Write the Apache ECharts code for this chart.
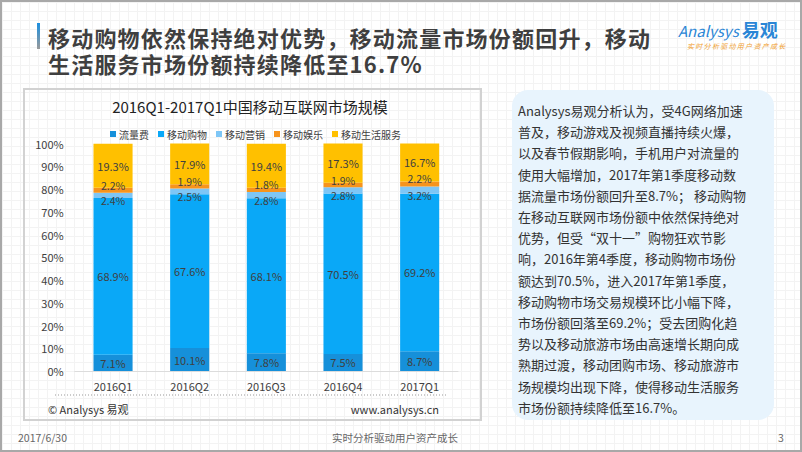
<!DOCTYPE html>
<html>
<head>
<meta charset="utf-8">
<script src="https://cdn.jsdelivr.net/npm/echarts@6/dist/echarts.min.js"></script>
<style>
  html,body{margin:0;padding:0;background:#fff;}
  .slide{position:relative;width:802px;height:452px;box-sizing:border-box;border:2px solid #a8a8a8;overflow:hidden;
    font-family:"Noto Sans CJK SC","Noto Sans",sans-serif;
    background-color:#fff;
    background-image:linear-gradient(to right,#f3f3f3 1px,transparent 1px),linear-gradient(to bottom,#f3f3f3 1px,transparent 1px);
    background-size:9px 9px;}
  .bar{position:absolute;left:35px;top:21px;width:3px;height:26px;background:linear-gradient(#1a8fe0,#9a9a9a);}
  .title{position:absolute;left:46px;top:22px;font-size:22px;font-weight:bold;color:#3f3f3f;line-height:26px;letter-spacing:1.2px;white-space:nowrap;}
  .logo{position:absolute;left:676px;top:14px;white-space:nowrap;}
  .logo .a{font-size:15px;color:#2a86d6;font-style:italic;}
  .logo .b{font-size:18px;color:#2a86d6;font-weight:bold;margin-left:3px;}
  .logo .t{position:absolute;left:9px;top:25px;font-size:7px;color:#f0a030;letter-spacing:1.3px;font-style:italic;}
  .panel{position:absolute;left:21px;top:86px;width:459px;height:333px;box-sizing:border-box;border:2px solid #d2d2d2;}
  .note{position:absolute;left:510px;top:88px;width:262px;height:330px;border-radius:16px;background:#e8f4fd;}
  .note .txt{position:absolute;left:6px;top:10px;font-size:13px;line-height:21.2px;color:#333;white-space:nowrap;}
  .foot{position:absolute;top:428px;font-size:10.5px;color:#666;}
  #chart{position:absolute;left:-2px;top:-2px;width:802px;height:452px;}
</style>
</head>
<body>
<div class="slide">
  <div class="bar"></div>
  <div class="title">移动购物依然保持绝对优势，移动流量市场份额回升，移动<br>生活服务市场份额持续降低至16.7%</div>
  <div class="logo"><span class="a">Analysys</span><span class="b">易观</span><div class="t">实时分析驱动用户资产成长</div></div>
  <div class="panel"></div>
  <div class="note"><div class="txt">Analysys易观分析认为，受4G网络加速<br>普及，移动游戏及视频直播持续火爆，<br>以及春节假期影响，手机用户对流量的<br>使用大幅增加，2017年第1季度移动数<br>据流量市场份额回升至8.7%； 移动购物<br>在移动互联网市场份额中依然保持绝对<br>优势，但受“双十一”购物狂欢节影<br>响，2016年第4季度，移动购物市场份<br>额达到70.5%，进入2017年第1季度，<br>移动购物市场交易规模环比小幅下降，<br>市场份额回落至69.2%；受去团购化趋<br>势以及移动旅游市场由高速增长期向成<br>熟期过渡，移动团购市场、移动旅游市<br>场规模均出现下降，使得移动生活服务<br>市场份额持续降低至16.7%。</div></div>
  <div class="foot" style="left:16px;">2017/6/30</div>
  <div class="foot" style="left:329px;width:128px;text-align:center;">实时分析驱动用户资产成长</div>
  <div class="foot" style="left:776px;">3</div>
  <div id="chart"></div>
</div>
<script>
const categories = ['2016Q1','2016Q2','2016Q3','2016Q4','2017Q1'];
const seriesNames = ['流量费','移动购物','移动营销','移动娱乐','移动生活服务'];
const trafficFee = [7.1, 10.1, 7.8, 7.5, 8.7];
const mobileShopping = [68.9, 67.6, 68.1, 70.5, 69.2];
const mobileMarketing = [2.4, 2.5, 2.8, 2.8, 3.2];
const mobileEntertainment = [2.2, 1.9, 1.8, 1.9, 2.2];
const mobileLifeService = [19.3, 17.9, 19.4, 17.3, 16.7];
const yTickLabels = ['0%','10%','20%','30%','40%','50%','60%','70%','80%','90%','100%'];

const colors = ['#1690da', '#0aa8f7', '#7ec6f6', '#f7941d', '#ffc000'];
const values = [trafficFee, mobileShopping, mobileMarketing, mobileEntertainment, mobileLifeService];
const labelOffsets = [[0,0],[0,0],[0,5],[0,-5],[0,0]];
const labelSizes = [11, 11, 10.5, 10.5, 11];
const font = '"Noto Sans CJK SC","Noto Sans",sans-serif';

const chart = echarts.init(document.getElementById('chart'), null, {renderer:'svg'});
chart.setOption({
  animation:false,
  backgroundColor:'transparent',
  textStyle:{fontFamily:font},
  color:colors,
  legend:{
    left:105, top:124, itemWidth:6, itemHeight:6, itemGap:9, icon:'rect',
    textStyle:{fontSize:10, color:'#404040', fontFamily:font, padding:[0,0,0,-2]},
    data:seriesNames
  },
  grid:{left:74.7, right:344, top:143.5, bottom:81},
  xAxis:{
    type:'category', data:categories,
    axisTick:{show:false},
    axisLine:{show:true, lineStyle:{color:'#dcdcdc'}},
    axisLabel:{fontSize:11, color:'#404040', margin:9, fontFamily:font}
  },
  yAxis:{
    type:'value', min:0, max:100, interval:10,
    axisLine:{show:false}, axisTick:{show:false}, splitLine:{show:false},
    axisLabel:{fontSize:11, color:'#404040', margin:11, fontFamily:font,
      formatter:(v)=>yTickLabels[Math.round(v/10)]}
  },
  graphic:[
    {type:'text', x:250, y:106, style:{text:'2016Q1-2017Q1中国移动互联网市场规模', fontSize:15, fill:'#222', textAlign:'center', textVerticalAlign:'middle', fontFamily:font}},
    {type:'line', shape:{x1:55, y1:395, x2:448, y2:395}, style:{stroke:'#999', lineWidth:1, lineDash:[1,2]}},
    {type:'text', x:48, y:409, style:{text:'© Analysys 易观', fontSize:11, fill:'#333', textVerticalAlign:'middle', fontFamily:font}},
    {type:'text', x:439, y:409, style:{text:'www.analysys.cn', fontSize:11, fill:'#333', textAlign:'right', textVerticalAlign:'middle', fontFamily:font}}
  ],
  series: seriesNames.map((name,i)=>({
    name, type:'bar', stack:'total', barWidth:'51%', data:values[i],
    itemStyle:{color:colors[i]},
    label:{show:true, position:'inside', offset:labelOffsets[i], formatter:'{c}%', fontSize:labelSizes[i], lineHeight:11, color:'#404040', fontFamily:font}
  }))
});
</script>
</body>
</html>
